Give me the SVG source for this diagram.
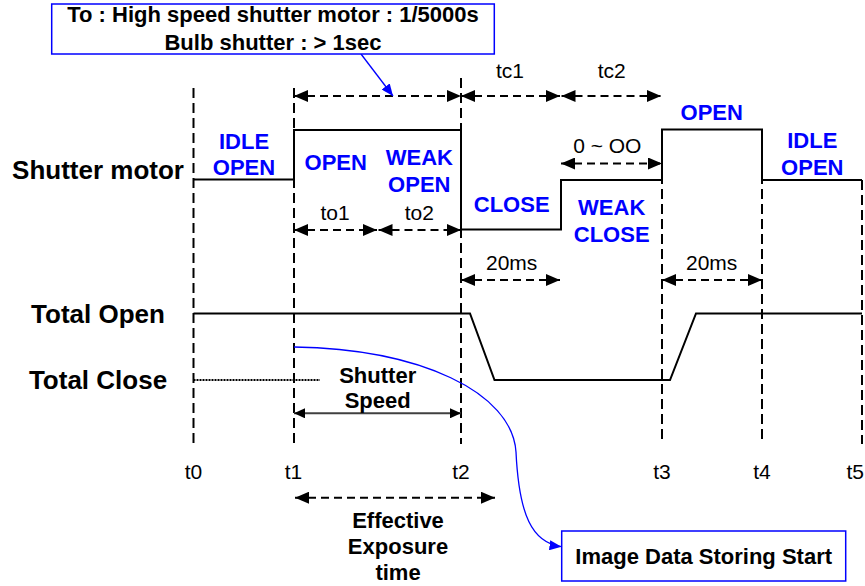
<svg xmlns="http://www.w3.org/2000/svg" width="865" height="586" viewBox="0 0 865 586">
<style>
text{font-family:"Liberation Sans",Arial,sans-serif;text-anchor:middle}
.lbl{font-weight:bold;font-size:26px;fill:#000}
.bl{font-weight:bold;font-size:22px;fill:#0000FF}
.bk{font-weight:bold;font-size:22px;fill:#000}
.rg{font-size:21px;fill:#000}
.grid{stroke:#000;stroke-width:2;stroke-dasharray:10,5;fill:none}
.dim{stroke:#000;stroke-width:2;stroke-dasharray:8,5;fill:none;marker-start:url(#ah);marker-end:url(#ah)}
.wave{stroke:#000;stroke-width:2;fill:none;stroke-linejoin:miter}
.box{fill:#fff;stroke:#0000FF;stroke-width:1.5}
.blue{stroke:#0000FF;stroke-width:1.3;fill:none}
</style>
<defs>
<marker id="ah" markerUnits="userSpaceOnUse" markerWidth="14" markerHeight="12" viewBox="0 0 14 12" refX="14" refY="6" orient="auto-start-reverse"><path d="M0,0L14,6L0,12z" fill="#000"/></marker>
<marker id="ahs" markerUnits="userSpaceOnUse" markerWidth="11" markerHeight="10" viewBox="0 0 11 10" refX="11" refY="5" orient="auto-start-reverse"><path d="M0,0L11,5L0,10z" fill="#000"/></marker>
<marker id="ahb" markerUnits="userSpaceOnUse" markerWidth="12" markerHeight="10" viewBox="0 0 12 10" refX="12" refY="5" orient="auto"><path d="M0,0L12,5L0,10z" fill="#0000FF"/></marker>
</defs>

<g id="grid">
<line class="grid" x1="193.5" y1="88" x2="193.5" y2="446"/>
<line class="grid" x1="294" y1="88" x2="294" y2="444"/>
<line class="grid" x1="461" y1="78" x2="461" y2="444"/>
<line class="grid" x1="662" y1="129" x2="662" y2="444"/>
<line class="grid" x1="762" y1="129" x2="762" y2="444"/>
<line class="grid" x1="862" y1="180" x2="862" y2="444"/>
</g>

<g id="signal-labels">
<text class="lbl" x="98" y="179">Shutter motor</text>
<text class="lbl" x="98" y="322.5">Total Open</text>
<text class="lbl" x="98" y="388.5">Total Close</text>
</g>

<g id="shutter-motor">
<path class="wave" d="M193.5,179.5H294V130H461V229.5H561V180H662V129.5H762V180H862"/>
</g>
<g id="total-open">
<path class="wave" d="M193.5,313.5H470L494.5,380H670L696,313.5H862"/>
</g>
<g id="total-close">
<line x1="193.5" y1="380" x2="320" y2="380" stroke="#000" stroke-width="2" stroke-dasharray="2,1"/>
</g>

<g id="state-labels">
<text class="bl" x="244" y="148.5">IDLE</text>
<text class="bl" x="244" y="175">OPEN</text>
<text class="bl" x="335.7" y="170">OPEN</text>
<text class="bl" x="419.3" y="165">WEAK</text>
<text class="bl" x="419.3" y="191.7">OPEN</text>
<text class="bl" x="511.7" y="211.7">CLOSE</text>
<text class="bl" x="611.7" y="215">WEAK</text>
<text class="bl" x="611.7" y="241.7">CLOSE</text>
<text class="bl" x="711.7" y="120">OPEN</text>
<text class="bl" x="812.3" y="148.3">IDLE</text>
<text class="bl" x="812.3" y="175">OPEN</text>
</g>

<g id="connectors">
<line class="dim" x1="294" y1="96" x2="461" y2="96"/>
<line class="dim" x1="461" y1="96" x2="560" y2="96"/>
<line class="dim" x1="561.5" y1="96" x2="661" y2="96"/>
<line class="dim" x1="294" y1="230" x2="377" y2="230"/>
<line class="dim" x1="378.5" y1="230" x2="461" y2="230"/>
<line class="dim" x1="561" y1="163.5" x2="662" y2="163.5"/>
<line class="dim" x1="461" y1="280" x2="560" y2="280"/>
<line class="dim" x1="662" y1="280" x2="762" y2="280"/>
<line class="dim" x1="295" y1="497.7" x2="495" y2="497.7"/>
<line x1="294" y1="413.3" x2="461" y2="413.3" stroke="#404040" stroke-width="2" marker-start="url(#ahs)" marker-end="url(#ahs)"/>
<line class="blue" x1="361" y1="54" x2="393" y2="96" marker-end="url(#ahb)"/>
<path class="blue" d="M294,347C420,349 512,392 516,452C519,515 532,543 561.5,546.7" marker-end="url(#ahb)"/>
</g>

<g id="dim-labels">
<text class="rg" x="510" y="78">tc1</text>
<text class="rg" x="611.7" y="78">tc2</text>
<text class="rg" x="335" y="220">to1</text>
<text class="rg" x="419.3" y="220">to2</text>
<text class="rg" x="607.3" y="152.7">0 ~ OO</text>
<text class="rg" x="511.7" y="270">20ms</text>
<text class="rg" x="711.7" y="270">20ms</text>
<text class="bk" x="377.7" y="382.7">Shutter</text>
<text class="bk" x="377.7" y="408">Speed</text>
<text class="bk" x="398" y="528">Effective</text>
<text class="bk" x="398" y="554">Exposure</text>
<text class="bk" x="398" y="580">time</text>
</g>

<g id="time-labels">
<text class="rg" x="193.5" y="479">t0</text>
<text class="rg" x="293.5" y="479">t1</text>
<text class="rg" x="461" y="479">t2</text>
<text class="rg" x="662" y="479">t3</text>
<text class="rg" x="762" y="479">t4</text>
<text class="rg" x="864" y="479" style="text-anchor:end">t5</text>
</g>

<g id="note-box">
<rect class="box" x="51.7" y="4" width="442.6" height="50"/>
<text class="bk" x="273" y="22">To : High speed shutter motor : 1/5000s</text>
<text class="bk" x="273" y="50">Bulb shutter : &gt; 1sec</text>
</g>

<g id="storing-box">
<rect class="box" x="561.7" y="531" width="284" height="50"/>
<text class="bk" x="703.7" y="563.5">Image Data Storing Start</text>
</g>
</svg>
